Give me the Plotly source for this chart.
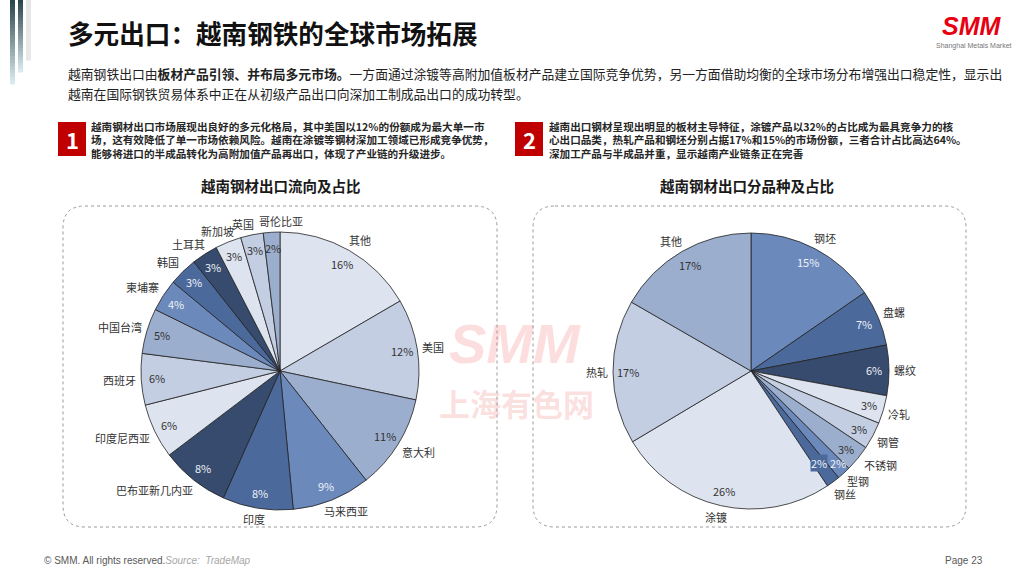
import math
import plotly.graph_objects as go

W, H = 1024, 576

# ---------------- data ----------------
left_labels = ["其他", "美国", "意大利", "马来西亚", "印度", "巴布亚新几内亚", "印度尼西亚",
               "西班牙", "中国台湾", "柬埔寨", "韩国", "土耳其", "新加坡", "英国", "哥伦比亚"]
left_values = [16.4, 11.6, 10.9, 9.0, 8.1, 7.9, 6.3, 5.9, 5.2, 3.7, 3.3, 3.0, 3.0, 2.6, 1.9]

right_labels = ["钢坯", "盘螺", "螺纹", "冷轧", "钢管", "不锈钢", "型钢", "钢丝", "涂镀", "热轧", "其他"]
right_values = [15.4, 6.6, 5.9, 3.3, 3.2, 3.1, 1.6, 1.6, 25.8, 16.9, 16.7]

# ---------------- style ----------------
palette = ["#dde4f0", "#c3cee2", "#9caecd", "#6b8abb", "#4b6a9b", "#364b6d"]
left_idx = [i % 6 for i in range(len(left_values))]
right_idx = [3, 4, 5, 0, 1, 2, 3, 4, 0, 1, 2]
pct_nudge = {"型钢": (4, 1), "钢丝": (-5, -7)}          # pixel nudges to avoid overlap
label_nudge = {"哥伦比亚": (12, 0), "英国": (-5, 0), "不锈钢": (2, -3), "型钢": (0, -2), "钢丝": (-1, 2)}
pct_bg = {"钢丝": "#4b6a9b"}

FONT = "Noto Sans CJK SC, Microsoft YaHei, sans-serif"


def X(px):
    return px / W


def Y(py):
    return 1 - py / H


def dom(cx, cy, r):
    return dict(x=[X(cx - r), X(cx + r)], y=[Y(cy + r), Y(cy - r)])


ann = []


def txt(x, y, s, size, color="#222222", bold=False, xanchor="left", yanchor="middle",
        family=FONT, italic=False, bgcolor=None):
    if bold:
        s = f"<b>{s}</b>"
    if italic:
        s = f"<i>{s}</i>"
    d = dict(x=X(x), y=Y(y), xref="paper", yref="paper", text=s, showarrow=False,
             xanchor=xanchor, yanchor=yanchor, align="left",
             font=dict(size=size, color=color, family=family))
    if bgcolor:
        d["bgcolor"] = bgcolor
        d["borderpad"] = 0
    ann.append(d)


def text_w(s, size):
    return sum(size if ord(c) > 255 else size * 0.58 for c in s)


def clamp(v):
    return max(-1.0, min(1.0, v))


def pie_with_labels(labels, values, idx, cx, cy, r):
    colors = [palette[i] for i in idx]
    fig.add_trace(go.Pie(
        labels=labels, values=values, sort=False, direction="clockwise", rotation=0,
        marker=dict(colors=colors, line=dict(color="#222222", width=0.8)),
        textinfo="none", domain=dom(cx, cy, r), hoverinfo="skip", showlegend=False,
    ))
    total = sum(values)
    cum = 0.0
    fs = 11
    for lab, v, i in zip(labels, values, idx):
        th = 2 * math.pi * (cum + v / 2) / total
        cum += v
        s, c = math.sin(th), math.cos(th)
        # category label just outside the rim
        w, h = text_w(lab, fs), fs * 1.15
        rr = r + 5
        ndx, ndy = label_nudge.get(lab, (0, 0))
        lx = cx + rr * s + w / 2 * clamp(1.5 * s) + ndx
        ly = cy - rr * c - h / 2 * clamp(1.5 * c) + ndy
        txt(lx, ly, lab, fs, color="#333333", xanchor="center")
        # percentage just inside the rim
        rp = r * 0.89
        dx, dy = pct_nudge.get(lab, (0, 0))
        px_ = cx + rp * s + dx
        py_ = cy - rp * c + dy
        pc = "#333333" if i < 3 else "#eef1f8"
        txt(px_, py_, f"{int(v + 0.5)}%", fs, color=pc, xanchor="center", bgcolor=pct_bg.get(lab))


fig = go.Figure()
pie_with_labels(left_labels, left_values, left_idx, 280, 371, 139)
pie_with_labels(right_labels, right_values, right_idx, 751, 371, 138)

shapes = []


def rounded(x0, y0, x1, y1, r):
    rx, ry = r / W, r / H
    a0, a1 = X(x0), X(x1)
    b0, b1 = Y(y0), Y(y1)
    p = (f"M {a0+rx},{b0} L {a1-rx},{b0} Q {a1},{b0} {a1},{b0-ry} "
         f"L {a1},{b1+ry} Q {a1},{b1} {a1-rx},{b1} L {a0+rx},{b1} Q {a0},{b1} {a0},{b1+ry} "
         f"L {a0},{b0-ry} Q {a0},{b0} {a0+rx},{b0} Z")
    return dict(type="path", path=p, xref="paper", yref="paper",
                line=dict(color="#9a9a9a", width=1, dash="dot"), layer="below")


shapes.append(rounded(63, 206, 497, 527, 22))
shapes.append(rounded(533, 206, 966, 527, 22))


def hexmix(c1, c2, t):
    a = [int(c1[i:i + 2], 16) for i in (1, 3, 5)]
    b = [int(c2[i:i + 2], 16) for i in (1, 3, 5)]
    return "#" + "".join(f"{round(a[k] + (b[k] - a[k]) * t):02x}" for k in range(3))


def grad_bar(x0, x1, y1, c_top, c_bot, n=24):
    seg = y1 / n
    for k in range(n):
        shapes.append(dict(type="rect", xref="paper", yref="paper",
                           x0=X(x0), x1=X(x1), y0=Y(seg * (k + 1) + 0.5), y1=Y(seg * k),
                           fillcolor=hexmix(c_top, c_bot, k / (n - 1)), line=dict(width=0)))


grad_bar(10, 15, 84, "#2b474d", "#d9eaee")
grad_bar(18, 23, 72, "#2b474d", "#d9eaee")
grad_bar(26, 31, 60, "#e6e6e6", "#e9e9e9")

# red number squares
shapes.append(dict(type="rect", xref="paper", yref="paper", x0=X(58), x1=X(86), y0=Y(156), y1=Y(122),
                   fillcolor="#c00000", line=dict(width=0)))
shapes.append(dict(type="rect", xref="paper", yref="paper", x0=X(515), x1=X(543), y0=Y(156), y1=Y(122),
                   fillcolor="#c00000", line=dict(width=0)))

# watermark
txt(515, 343, "SMM", 56, color="rgba(238,90,90,0.20)", bold=True, italic=True, xanchor="center",
    family="Liberation Sans, Arial, sans-serif")
txt(516, 402, "上海有色网", 31, color="rgba(238,90,90,0.20)", bold=True, xanchor="center")

# title
txt(66, 33, "多元出口：越南钢铁的全球市场拓展", 25.6, color="#111111", bold=True)

# logo
txt(972, 26, "SMM", 25, color="#e60012", bold=True, italic=True, xanchor="center",
    family="Liberation Sans, Arial, sans-serif")
txt(974, 46, "Shanghai Metals Market", 7, color="#777777", xanchor="center",
    family="Liberation Sans, Arial, sans-serif")

# intro paragraph
txt(66, 73, "越南钢铁出口由<b>板材产品引领、并布局多元市场。</b>一方面通过涂镀等高附加值板材产品建立国际竞争优势，"
            "另一方面借助均衡的全球市场分布增强出口稳定性，显示出", 12.8)
txt(66, 93, "越南在国际钢铁贸易体系中正在从初级产品出口向深加工制成品出口的成功转型。", 12.8)

# numbered boxes
txt(72, 139, "1", 22, color="#ffffff", bold=True, xanchor="center")
txt(529, 139, "2", 22, color="#ffffff", bold=True, xanchor="center")

box1 = ["越南钢材出口市场展现出良好的多元化格局，其中美国以12%的份额成为最大单一市",
        "场，这有效降低了单一市场依赖风险。越南在涂镀等钢材深加工领域已形成竞争优势，",
        "能够将进口的半成品转化为高附加值产品再出口，体现了产业链的升级进步。"]
box2 = ["越南出口钢材呈现出明显的板材主导特征，涂镀产品以32%的占比成为最具竞争力的核",
        "心出口品类，热轧产品和钢坯分别占据17%和15%的市场份额，三者合计占比高达64%。",
        "深加工产品与半成品并重，显示越南产业链条正在完善"]
for i, s in enumerate(box1):
    txt(89, 126 + 13.7 * i, s, 10.6, color="#262626", bold=True)
for i, s in enumerate(box2):
    txt(547, 126 + 13.7 * i, s, 10.6, color="#262626", bold=True)

# chart titles
txt(281, 185, "越南钢材出口流向及占比", 14.5, color="#1a1a1a", bold=True, xanchor="center")
txt(747, 185, "越南钢材出口分品种及占比", 14.5, color="#1a1a1a", bold=True, xanchor="center")

# footer
txt(42, 560, "© SMM. All rights reserved.<span style='color:#a6a6a6'><i>Source:  TradeMap</i></span>", 10,
    color="#595959", family="Liberation Sans, Arial, sans-serif")
txt(985, 560, "Page 23", 10, color="#595959", xanchor="right", family="Liberation Sans, Arial, sans-serif")

fig.update_layout(
    width=W, height=H, margin=dict(l=0, r=0, t=0, b=0),
    paper_bgcolor="#ffffff", plot_bgcolor="#ffffff",
    shapes=shapes, annotations=ann, showlegend=False,
    font=dict(family=FONT),
)

fig.write_html("out.html", config={"displayModeBar": False},
               post_script="document.body.style.margin='0';document.body.style.overflow='hidden';")
